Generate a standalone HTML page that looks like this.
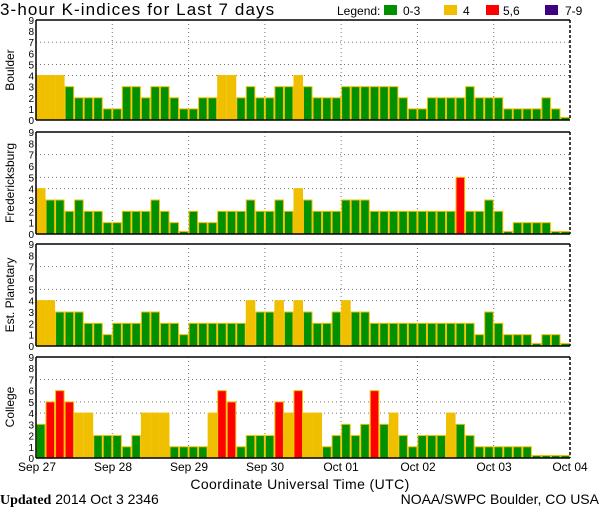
<!DOCTYPE html>
<html><head><meta charset="utf-8"><style>
html,body{margin:0;padding:0;background:#fff;width:600px;height:510px;overflow:hidden}
svg{display:block;font-family:"Liberation Sans",sans-serif}
</style></head><body>
<svg id="s" width="600" height="510" xmlns="http://www.w3.org/2000/svg">
<rect width="600" height="510" fill="#fff"/>
<text x="0" y="15" font-size="17" letter-spacing="1.1">3-hour K-indices for Last 7 days</text>
<text x="337" y="15" font-size="12">Legend:</text>
<rect x="384" y="5" width="13" height="10" fill="#009000"/><text x="403" y="15" font-size="12">0-3</text>
<rect x="444" y="5" width="13" height="10" fill="#f0c000"/><text x="463" y="15" font-size="12">4</text>
<rect x="486" y="5" width="13" height="10" fill="#ff0000"/><text x="503" y="15" font-size="12">5,6</text>
<rect x="545" y="5" width="13" height="10" fill="#400080"/><text x="565" y="15" font-size="12">7-9</text>
<g font-size="12" text-anchor="middle">
<text transform="translate(14,70) rotate(-90)">Boulder</text>
<text transform="translate(14,183) rotate(-90)">Fredericksburg</text>
<text transform="translate(14,295) rotate(-90)">Est. Planetary</text>
<text transform="translate(14,407) rotate(-90)">College</text>
<text x="37" y="471">Sep 27</text><text x="113" y="471">Sep 28</text><text x="189" y="471">Sep 29</text>
<text x="265" y="471">Sep 30</text><text x="341" y="471">Oct 01</text><text x="418" y="471">Oct 02</text>
<text x="494" y="471">Oct 03</text><text x="570" y="471">Oct 04</text>
<text x="300" y="489" font-size="14" letter-spacing="0.4">Coordinate Universal Time (UTC)</text>
</g>
<text x="0" y="504" font-size="14"><tspan font-family="Liberation Serif" font-weight="bold">Updated</tspan> 2014 Oct  3 2346</text>
<text x="599" y="504" font-size="14" text-anchor="end">NOAA/SWPC Boulder, CO USA</text>
<g id="g"></g>
<g id="t" font-size="10" text-anchor="end"></g>
</svg>
<script>
var P=[[20,120],[132,234],[244,346],[357,458]];
var D=[
[4,4,4,3,2,2,2,1,1,3,3,2,3,3,2,1,1,2,2,4,4,2,3,2,2,3,3,4, 3,2,2,2,3,3,3,3,3,3,2,1,1,2,2,2,2,3,2,2,2,1,1,1,1,2,1,0],
[4,3,3,2,3,2,2,1,1,2,2,2,3,2,1,0,2,1,1,2,2,2,3,2,2,3,2,4, 3,2,2,2,3,3,3,2,2,2,2,2,2,2,2,2,5,2,2,3,2,0,1,1,1,1,0,0],
[4,4,3,3,3,2,2,1,2,2,2,3,3,2,2,1,2,2,2,2,2,2,4,3,3,4,3,4, 3,2,2,3,4,3,3,2,2,2,2,2,2,2,2,2,2,2,1,3,2,1,1,1,0,1,1,0],
[3,5,6,5,4,4,2,2,2,1,2,4,4,4,1,1,1,1,4,6,5,1,2,2,2,5,4,6, 4,4,1,2,3,2,3,6,3,4,2,1,2,2,2,4,3,2,1,1,1,1,1,1,0,0,0,0]];
var x0=36,x1=570,bw=(x1-x0)/56,dw=(x1-x0)/7,h='',t='';
function col(v){return v<=3?'#009000':v==4?'#f0c000':v<=6?'#ff0000':'#400080';}
P.forEach(function(p,i){
 var top=p[0],b=p[1],u=(b-top)/9;
 [4,5,7].forEach(function(l){var y=b-l*u;h+='<line x1="'+x0+'" x2="'+x1+'" y1="'+y+'" y2="'+y+'" stroke="#777" stroke-dasharray="1,3"/>';});
 for(var d=1;d<7;d++){var x=x0+d*dw;h+='<line x1="'+x+'" x2="'+x+'" y1="'+top+'" y2="'+b+'" stroke="#777" stroke-dasharray="1,3"/>';}
 D[i].forEach(function(v,k){var x=x0+k*bw,hh=v==0?2.5:v*u;
  h+='<rect x="'+(x+0.5)+'" y="'+(b-hh)+'" width="'+(bw-1)+'" height="'+hh+'" fill="'+col(v)+'" stroke="#f0c000" stroke-width="1"/>';});
 h+='<line x1="'+x0+'" x2="'+x1+'" y1="'+top+'" y2="'+top+'" stroke="#000" stroke-width="1.5"/>';
 h+='<line x1="'+x0+'" x2="'+x1+'" y1="'+b+'" y2="'+b+'" stroke="#000" stroke-width="1.5"/>';
 h+='<line x1="'+x0+'" x2="'+x0+'" y1="'+top+'" y2="'+b+'" stroke="#000" stroke-width="1.5"/>';
 h+='<line x1="'+x1+'" x2="'+x1+'" y1="'+top+'" y2="'+b+'" stroke="#000" stroke-width="1.5" stroke-dasharray="3,2"/>';
 for(var l=0;l<=9;l++){t+='<text x="34" y="'+(b-l*u+4)+'">'+l+'</text>';}
});
document.getElementById('g').innerHTML=h;
document.getElementById('t').innerHTML=t;
</script>
</body></html>
